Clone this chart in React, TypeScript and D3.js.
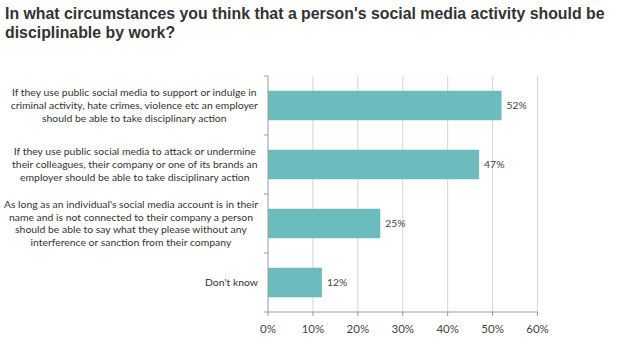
import React from "react";
import * as d3 from "d3";

const titleLines = [
  "In what circumstances you think that a person's social media activity should be",
  "disciplinable by work?",
];
const categories = [
  [
    "If they use public social media to support or indulge in",
    "criminal activity, hate crimes, violence etc an employer",
    "should be able to take disciplinary action",
  ],
  [
    "If they use public social media to attack or undermine",
    "their colleagues, their company or one of its brands an",
    "employer should be able to take disciplinary action",
  ],
  [
    "As long as an individual's social media account is in their",
    "name and is not connected to their company a person",
    "should be able to say what they please without any",
    "interference or sanction from their company",
  ],
  ["Don't know"],
];
const values = [0.52, 0.47, 0.25, 0.12];
const valueLabels = ["52%", "47%", "25%", "12%"];
const xTicks = [0, 0.1, 0.2, 0.3, 0.4, 0.5, 0.6];

const W = 619;
const H = 352;
const LABEL_SIZE = 10.4;
const LABEL_FONT = `${LABEL_SIZE}px Lato`;

function measure(text: string, font: string): number {
  const c = document.createElement("canvas");
  const ctx = c.getContext("2d")!;
  ctx.font = font;
  return ctx.measureText(text).width;
}

export default function App() {
  const x = d3.scaleLinear().domain([0, 0.6]).range([268, 537.5]);
  const y = d3
    .scaleBand<number>()
    .domain(categories.map((_, i) => i))
    .range([76, 312])
    .paddingInner(0.5)
    .paddingOuter(0.25);
  const step = y.step();
  const boundaries = d3.range(categories.length + 1).map((i) => 76 + i * step);
  const lineH = 12.7;
  const labelRight = 258;
  const baseTitle = 17;
  const titleSize = Math.min(
    17,
    (baseTitle * 600) / measure(titleLines[0], `bold ${baseTitle}px "Liberation Sans"`)
  );

  return (
    <svg
      width={W}
      height={H}
      style={{ position: "absolute", left: 0, top: 0, background: "#fff" }}
    >
      {titleLines.map((t, i) => (
        <text
          key={i}
          x={5}
          y={18.5 + i * 19.5}
          fontFamily="Liberation Sans, Arial, sans-serif"
          fontWeight="bold"
          fontSize={titleSize}
          fill="#333333"
        >
          {t}
        </text>
      ))}
      {xTicks.slice(1).map((t) => (
        <line
          key={t}
          x1={x(t)}
          x2={x(t)}
          y1={76}
          y2={312}
          stroke="#d4d4d4"
          strokeWidth={1}
        />
      ))}
      {categories.map((_, i) => (
        <rect
          key={i}
          x={x(0)}
          y={y(i)!}
          width={x(values[i]) - x(0)}
          height={y.bandwidth()}
          fill="#6dbcbd"
        />
      ))}
      <line x1={x(0)} x2={x(0)} y1={76} y2={312} stroke="#9a9a9a" />
      <line x1={x(0)} x2={x(0.6)} y1={312} y2={312} stroke="#9a9a9a" />
      {boundaries.map((b, i) => (
        <line key={i} x1={264} x2={x(0)} y1={b} y2={b} stroke="#9a9a9a" />
      ))}
      {xTicks.map((t) => (
        <line key={t} x1={x(t)} x2={x(t)} y1={312} y2={316} stroke="#9a9a9a" />
      ))}
      {xTicks.map((t) => (
        <text
          key={t}
          x={x(t)}
          y={333}
          textAnchor="middle"
          fontFamily="Lato, sans-serif"
          fontSize={11.5}
          fill="#444"
        >
          {d3.format(".0%")(t)}
        </text>
      ))}
      {values.map((v, i) => (
        <text
          key={i}
          x={x(v) + 5}
          y={y(i)! + y.bandwidth() / 2 + 3.5}
          fontFamily="Lato, sans-serif"
          fontSize={10.4}
          fill="#444"
        >
          {valueLabels[i]}
        </text>
      ))}
      {categories.map((lines, i) => {
        const maxW = Math.max(...lines.map((l) => measure(l, LABEL_FONT)));
        const cx = labelRight - maxW / 2;
        const cy = y(i)! + y.bandwidth() / 2;
        const start = cy - ((lines.length - 1) * lineH) / 2;
        return (
          <g key={i}>
            {lines.map((l, j) => (
              <text
                key={j}
                x={cx}
                y={start + j * lineH + 3.5}
                textAnchor="middle"
                fontFamily="Lato, sans-serif"
                fontSize={LABEL_SIZE}
                fill="#333"
              >
                {l}
              </text>
            ))}
          </g>
        );
      })}
    </svg>
  );
}
